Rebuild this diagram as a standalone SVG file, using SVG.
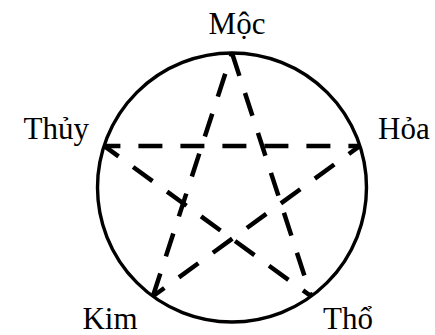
<svg xmlns="http://www.w3.org/2000/svg" width="435" height="335" viewBox="0 0 435 335">
<style>
.lbl{font-family:"Liberation Serif","DejaVu Serif",serif;font-size:31px;fill:#000}
.edge{fill:none;stroke:#000;stroke-width:4.5;stroke-dasharray:24 18;stroke-linecap:butt}
.ring{fill:none;stroke:#000;stroke-width:3.4}
</style>
<rect width="435" height="335" fill="#fff"/>
<g id="circle"><circle class="ring" cx="232" cy="187.5" r="134.5"/></g>
<g id="connectors">
<line class="edge" x1="232" y1="53" x2="311.1" y2="296.3" stroke-dashoffset="0"/>
<line class="edge" x1="311.1" y1="296.3" x2="104.1" y2="145.9" stroke-dashoffset="14"/>
<line class="edge" x1="104.1" y1="145.9" x2="359.9" y2="145.9" stroke-dashoffset="7.7"/>
<line class="edge" x1="359.9" y1="145.9" x2="152.9" y2="296.3" stroke-dashoffset="10.3"/>
<line class="edge" x1="152.9" y1="296.3" x2="232" y2="53" stroke-dashoffset="0"/>
</g>
<g id="moc"><text class="lbl" x="237" y="34" text-anchor="middle">Mộc</text></g>
<g id="hoa"><text class="lbl" x="378" y="139" text-anchor="start">Hỏa</text></g>
<g id="thuy"><text class="lbl" x="89" y="139" text-anchor="end">Thủy</text></g>
<g id="kim"><text class="lbl" x="110" y="329" text-anchor="middle">Kim</text></g>
<g id="tho"><text class="lbl" x="323" y="329" text-anchor="start">Thổ</text></g>
</svg>
